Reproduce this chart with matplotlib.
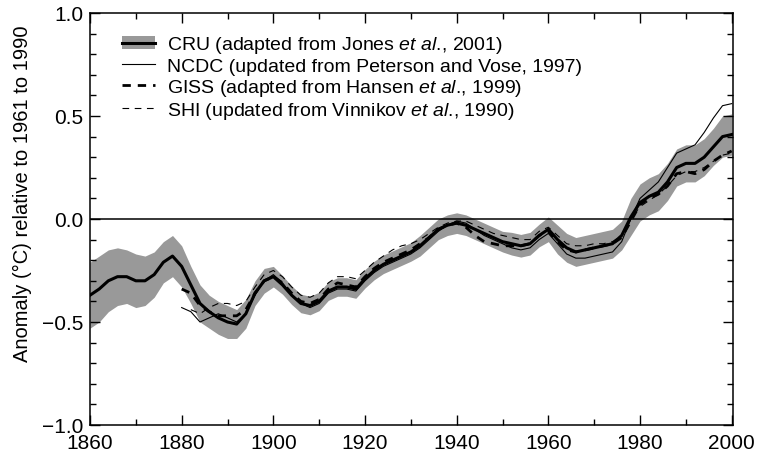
import numpy as np
import matplotlib
matplotlib.use("Agg")
import matplotlib.pyplot as plt
from matplotlib.patches import Patch
from matplotlib.lines import Line2D
from matplotlib.ticker import MultipleLocator, FuncFormatter

plt.rcParams["font.family"] = ["Liberation Sans", "DejaVu Sans"]
plt.rcParams["mathtext.fontset"] = "custom"
plt.rcParams["mathtext.rm"] = "Liberation Sans"
plt.rcParams["mathtext.it"] = "Liberation Sans:italic"

# CRU smoothed series (2-year steps) and half-width of its uncertainty band
cru_years = list(range(1860, 2001, 2))
cru = [-0.37, -0.34, -0.30, -0.28, -0.28, -0.30, -0.30, -0.27, -0.21, -0.18,
       -0.23, -0.32, -0.41, -0.45, -0.48, -0.50, -0.51, -0.46, -0.36, -0.30,
       -0.28, -0.32, -0.37, -0.41, -0.42, -0.40, -0.35, -0.33, -0.33, -0.34,
       -0.29, -0.25, -0.22, -0.20, -0.18, -0.16, -0.13, -0.09, -0.05, -0.03,
       -0.02, -0.03, -0.05, -0.07, -0.09, -0.11, -0.12, -0.13, -0.12, -0.08,
       -0.05, -0.10, -0.14, -0.16, -0.15, -0.14, -0.13, -0.12, -0.08, 0.01,
       0.08, 0.11, 0.13, 0.18, 0.25, 0.27, 0.27, 0.30, 0.35, 0.40, 0.41]
cru_err = [0.16, 0.16, 0.15, 0.14, 0.13, 0.13, 0.12, 0.11, 0.10, 0.10,
           0.10, 0.09, 0.09, 0.08, 0.08, 0.08, 0.07, 0.07, 0.06, 0.06,
           0.05, 0.045, 0.045, 0.045, 0.045, 0.045, 0.045, 0.045, 0.045, 0.045,
           0.045, 0.045, 0.045, 0.045, 0.045, 0.045, 0.05, 0.05, 0.05, 0.05,
           0.05, 0.05, 0.05, 0.05, 0.05, 0.05, 0.055, 0.055, 0.055, 0.055,
           0.06, 0.07, 0.07, 0.07, 0.07, 0.07, 0.07, 0.07, 0.07, 0.09,
           0.09, 0.09, 0.09, 0.09, 0.09, 0.09, 0.09, 0.09, 0.09, 0.10, 0.10]

# NCDC and GISS series (2-year steps from 1880)
ncdc_years = list(range(1880, 2001, 2))
ncdc = [-0.43, -0.45, -0.50, -0.48, -0.46, -0.48, -0.50, -0.46, -0.37, -0.30,
        -0.27, -0.31, -0.37, -0.41, -0.43, -0.41, -0.36, -0.34, -0.34, -0.35,
        -0.30, -0.26, -0.23, -0.21, -0.19, -0.17, -0.14, -0.10, -0.06, -0.03,
        -0.01, -0.02, -0.05, -0.08, -0.10, -0.12, -0.14, -0.15, -0.14, -0.10,
        -0.07, -0.12, -0.17, -0.19, -0.19, -0.18, -0.17, -0.16, -0.11, 0.00,
        0.10, 0.14, 0.18, 0.25, 0.32, 0.34, 0.36, 0.42, 0.49, 0.55, 0.56]

giss_years = list(range(1880, 2001, 2))
giss = [-0.34, -0.36, -0.42, -0.45, -0.47, -0.47, -0.47, -0.44, -0.36, -0.30,
        -0.28, -0.31, -0.36, -0.40, -0.41, -0.39, -0.34, -0.31, -0.32, -0.33,
        -0.28, -0.24, -0.21, -0.19, -0.17, -0.15, -0.12, -0.09, -0.05, -0.03,
        -0.02, -0.04, -0.08, -0.11, -0.12, -0.13, -0.13, -0.13, -0.12, -0.08,
        -0.06, -0.11, -0.15, -0.16, -0.15, -0.14, -0.13, -0.12, -0.09, -0.01,
        0.07, 0.10, 0.12, 0.16, 0.22, 0.23, 0.22, 0.24, 0.28, 0.31, 0.33]

# SHI series (2-year steps from 1882)
shi_years = list(range(1882, 2001, 2))
shi = [-0.44, -0.46, -0.43, -0.41, -0.41, -0.42, -0.40, -0.33, -0.27,
       -0.25, -0.28, -0.33, -0.37, -0.38, -0.36, -0.31, -0.28, -0.28, -0.29,
       -0.25, -0.21, -0.18, -0.15, -0.13, -0.12, -0.10, -0.07, -0.04, -0.02,
       -0.01, -0.01, -0.03, -0.05, -0.07, -0.08, -0.09, -0.10, -0.10, -0.06,
       -0.04, -0.08, -0.12, -0.13, -0.13, -0.12, -0.12, -0.11, -0.08, 0.00,
       0.06, 0.09, 0.12, 0.16, 0.21, 0.23, 0.23, 0.25, 0.28, 0.31, 0.32]

labels = [
    r"CRU (adapted from Jones $\mathit{et\ al}$., 2001)",
    "NCDC (updated from Peterson and Vose, 1997)",
    r"GISS (adapted from Hansen $\mathit{et\ al}$., 1999)",
    r"SHI (updated from Vinnikov $\mathit{et\ al}$., 1990)",
]

fig = plt.figure(figsize=(7.66, 4.56), dpi=100)
ax = fig.add_axes([0.1175, 0.0658, 0.8395, 0.9035])

cy = np.array(cru_years)
c = np.array(cru)
e = np.array(cru_err)
band_color = "#999999"
ax.fill_between(cy, c - e, c + e, color=band_color, lw=0, zorder=1)
ax.axhline(0.0, color="black", lw=1.1, zorder=2)
ax.plot(ncdc_years, ncdc, color="black", lw=0.8, zorder=3)
ax.plot(shi_years, shi, color="black", lw=0.8, ls=(0, (6, 5)), zorder=3)
ax.plot(giss_years, giss, color="black", lw=2.0, ls=(0, (3, 2.5)), zorder=3)
ax.plot(cy, c, color="black", lw=2.2, zorder=4)

ax.set_xlim(1860, 2000.3)
ax.set_ylim(-1.0, 1.0)
ax.xaxis.set_major_locator(MultipleLocator(20))
ax.xaxis.set_minor_locator(MultipleLocator(10))
ax.yaxis.set_major_locator(MultipleLocator(0.5))
ax.yaxis.set_minor_locator(MultipleLocator(0.1))
ax.yaxis.set_major_formatter(FuncFormatter(
    lambda v, p: f"{v:.1f}".replace("-", "\u2212")))
ax.tick_params(which="both", direction="in", top=True, right=True,
               width=1.0, labelsize=15)
ax.tick_params(axis="y", pad=5)
ax.tick_params(axis="x", pad=5.5)
ax.tick_params(which="major", length=7)
ax.tick_params(which="minor", length=4)
for s in ax.spines.values():
    s.set_linewidth(1.1)

ax.set_ylabel("Anomaly (\u00b0C) relative to 1961 to 1990", fontsize=14.5)
ax.yaxis.set_label_coords(-0.090, 0.563)

handles = [
    (Patch(facecolor=band_color, edgecolor="none"),
     Line2D([], [], color="black", lw=2.2)),
    Line2D([], [], color="black", lw=0.8),
    Line2D([], [], color="black", lw=2.0, ls=(0, (3, 2.5))),
    Line2D([], [], color="black", lw=0.8, ls=(0, (6, 5))),
]
ax.legend(handles, labels, loc="upper left", bbox_to_anchor=(0.05, 0.948),
          frameon=False, fontsize=14, handlelength=1.7, handletextpad=0.6,
          labelspacing=0.1, borderpad=0, borderaxespad=0)

fig.savefig("out.png", dpi=100)
